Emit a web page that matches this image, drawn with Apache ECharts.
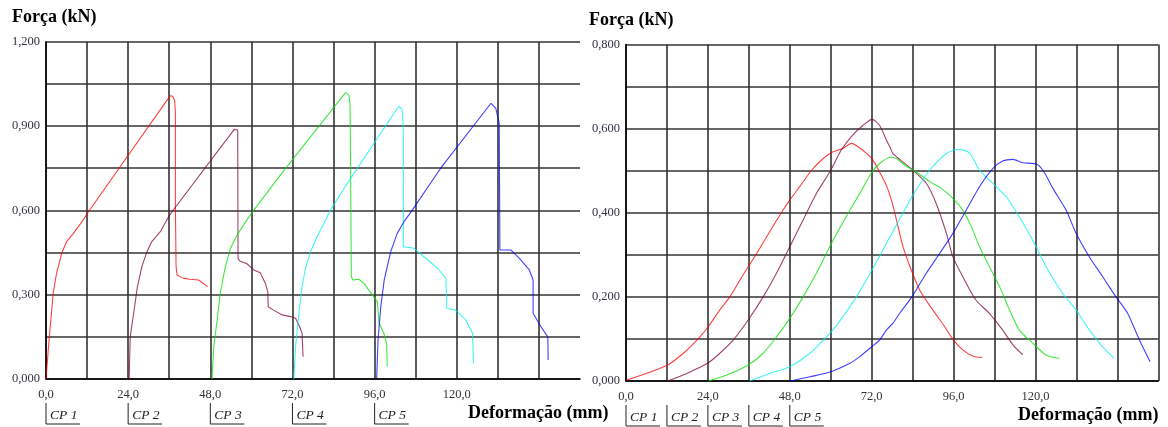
<!DOCTYPE html>
<html>
<head>
<meta charset="utf-8">
<script src="https://cdn.jsdelivr.net/npm/echarts@6/dist/echarts.min.js"></script>
<style>
html,body{margin:0;padding:0;background:#fff;}
#c{width:1168px;height:427px;}
</style>
</head>
<body>
<div id="c"></div>
<script>
// ---- Data ----
const cpNames = ['CP 1', 'CP 2', 'CP 3', 'CP 4', 'CP 5'];
const cpColors = ['#ff0000', '#800040', '#00e000', '#00f0f0', '#0000ff'];
const leftOffsets = [0, 24, 48, 72, 96];
const rightOffsets = [0, 12, 24, 36, 48];
const leftYMax = 1.2, leftYStep = 0.15;
const rightYMax = 0.8, rightYStep = 0.1;
const xMax = 156, xStep = 12;

const leftCP1 = [[0,0],[0.97,0.15],[2.1,0.305],[3.1,0.377],[4.6,0.448],[6.05,0.489],[8.0,0.518],[10.9,0.566],[12.4,0.595],[36.3,1.008],[37.0,1.006],[37.6,0.99],[37.8,0.95],[37.8,0.62],[38.0,0.40],[38.3,0.37],[40.2,0.358],[42.1,0.355],[44.6,0.352],[46.0,0.340],[47.2,0.328]];
const leftCP2 = [[24.3,0],[24.6,0.15],[25.6,0.234],[26.7,0.328],[28.0,0.40],[29.5,0.453],[30.9,0.489],[33.4,0.524],[35.3,0.566],[36.8,0.595],[55.0,0.888],[56.0,0.886],[56.1,0.429],[56.6,0.42],[58.7,0.41],[60.7,0.388],[62.6,0.378],[64.1,0.34],[64.8,0.31],[64.9,0.257],[66.5,0.245],[69.0,0.228],[71.4,0.222],[72.9,0.216],[74.1,0.186],[74.8,0.163],[75.1,0.079]];
const leftCP3 = [[48.5,0],[49.0,0.115],[50.0,0.21],[50.9,0.305],[52.4,0.40],[53.9,0.465],[55.8,0.512],[58.7,0.566],[60.7,0.601],[68.5,0.726],[87.5,1.019],[88.5,1.01],[88.8,0.981],[88.9,0.90],[89.2,0.364],[89.6,0.352],[91.4,0.355],[92.9,0.34],[95.3,0.299],[96.8,0.275],[97.3,0.198],[98.7,0.163],[99.5,0.127],[99.7,0.044]];
const leftCP4 = [[72.4,0],[72.9,0.115],[73.9,0.234],[74.8,0.328],[75.8,0.394],[77.3,0.453],[79.2,0.506],[81.7,0.566],[83.1,0.601],[88.5,0.705],[103.1,0.971],[104.1,0.957],[104.4,0.886],[104.4,0.471],[104.9,0.466],[107.5,0.465],[110.4,0.435],[114.4,0.394],[116.8,0.358],[117.1,0.252],[119.7,0.245],[122.6,0.21],[124.6,0.163],[124.9,0.056]];
const leftCP5 = [[96.6,0],[97.0,0.139],[97.8,0.257],[98.8,0.352],[100.7,0.453],[102.6,0.518],[104.6,0.56],[107.0,0.601],[115.3,0.75],[130.0,0.981],[131.4,0.963],[132.4,0.91],[132.6,0.459],[135.8,0.459],[138.3,0.429],[141.2,0.388],[142.3,0.352],[142.3,0.234],[144.6,0.186],[146.6,0.15],[146.7,0.068]];

const rightCP1 = [[0,0.002],[6.0,0.018],[12.2,0.038],[16.8,0.066],[21.2,0.101],[24.1,0.129],[27.5,0.169],[30.4,0.20],[34.3,0.252],[38.3,0.303],[42.1,0.355],[46.0,0.406],[48.0,0.43],[50.9,0.462],[54.4,0.501],[57.8,0.529],[60.7,0.545],[63.6,0.553],[66.1,0.565],[68.0,0.557],[70.5,0.541],[72.4,0.525],[74.3,0.497],[76.3,0.465],[77.8,0.43],[79.5,0.375],[81.2,0.319],[83.6,0.264],[86.1,0.216],[89.9,0.169],[93.4,0.129],[95.8,0.099],[98.7,0.074],[101.7,0.059],[104.4,0.056]];
const rightCP2 = [[12.2,0],[17.8,0.018],[23.9,0.042],[27.5,0.066],[31.4,0.097],[35.8,0.145],[40.2,0.20],[44.1,0.256],[48.0,0.319],[51.9,0.383],[55.8,0.446],[59.7,0.497],[63.1,0.549],[66.5,0.585],[69.5,0.608],[72.1,0.622],[74.3,0.608],[76.3,0.573],[77.3,0.557],[78.2,0.541],[80.2,0.527],[84.1,0.501],[88.0,0.47],[90.9,0.422],[93.9,0.351],[95.8,0.295],[98.7,0.248],[102.6,0.192],[106.5,0.161],[110.4,0.121],[113.4,0.086],[116.3,0.062]];
const rightCP3 = [[24.2,0],[29.5,0.014],[35.8,0.038],[40.2,0.066],[44.1,0.105],[48.0,0.149],[51.9,0.20],[55.8,0.256],[59.7,0.319],[62.6,0.363],[65.6,0.406],[68.5,0.446],[72.1,0.497],[74.6,0.519],[77.5,0.532],[79.2,0.529],[81.7,0.513],[85.1,0.497],[89.0,0.474],[92.4,0.458],[95.8,0.434],[98.7,0.406],[101.2,0.367],[103.6,0.319],[106.5,0.272],[109.5,0.224],[112.4,0.169],[115.3,0.121],[119.2,0.09],[123.1,0.062],[127.0,0.054]];
const rightCP4 = [[36.2,0],[42.1,0.018],[48.0,0.034],[53.9,0.066],[59.7,0.113],[63.6,0.153],[67.5,0.20],[72.1,0.264],[76.3,0.327],[78.2,0.355],[80.2,0.385],[83.8,0.438],[89.0,0.501],[93.9,0.541],[97.3,0.551],[100.7,0.542],[103.6,0.501],[107.5,0.47],[111.4,0.438],[115.3,0.39],[119.7,0.327],[123.1,0.272],[128.0,0.208],[131.9,0.169],[135.8,0.121],[139.7,0.081],[143.1,0.054]];
const rightCP5 = [[48.2,0],[53.9,0.010],[60.0,0.022],[65.6,0.042],[68.5,0.058],[72.1,0.082],[74.3,0.097],[76.3,0.121],[78.2,0.137],[80.2,0.161],[83.8,0.20],[88.0,0.256],[91.9,0.303],[95.8,0.351],[99.7,0.406],[103.6,0.462],[107.5,0.505],[110.4,0.523],[113.4,0.527],[116.3,0.519],[120.2,0.516],[122.2,0.501],[125.1,0.458],[129.0,0.406],[131.9,0.351],[135.8,0.295],[139.7,0.248],[143.6,0.20],[147.0,0.161],[150.5,0.097],[153.6,0.046]];

const leftSeriesData = [leftCP1, leftCP2, leftCP3, leftCP4, leftCP5];
const rightSeriesData = [rightCP1, rightCP2, rightCP3, rightCP4, rightCP5];

// ---- Styles ----
const SERIF = "'Liberation Serif', 'DejaVu Serif', serif";
const gridColor = '#333333';

function fmt(v, d) { return v.toFixed(d).replace('.', ','); }

function xAxisFor(gridIndex, showMax) {
  return {
    type: 'value', gridIndex: gridIndex, min: 0, max: xMax, interval: xStep,
    axisLine: { show: true, lineStyle: { color: '#000', width: 1.5 } },
    axisTick: { show: false },
    splitLine: { show: true, showMaxLine: showMax, lineStyle: { color: gridColor, width: 1.6 } },
    axisLabel: {
      fontFamily: SERIF, fontSize: 12.5, color: '#333', margin: 9,
      formatter: function (v) {
        const k = Math.round(v / xStep);
        if (k % 2 !== 0 || v > 130) return '';
        return fmt(v, 1);
      }
    }
  };
}
function yAxisFor(gridIndex, max, step) {
  return {
    type: 'value', gridIndex: gridIndex, min: 0, max: max, interval: step,
    axisLine: { show: true, lineStyle: { color: '#000', width: 1.5 } },
    axisTick: { show: false },
    splitLine: { show: true, lineStyle: { color: gridColor, width: 1.6 } },
    axisLabel: {
      fontFamily: SERIF, fontSize: 12.5, color: '#333344', margin: 6,
      formatter: function (v) {
        const k = Math.round(v / step);
        if (k % 2 !== 0) return '';
        return fmt(v, 3);
      }
    }
  };
}

const series = [];
leftSeriesData.forEach(function (d, i) {
  series.push({
    name: cpNames[i], type: 'line', xAxisIndex: 0, yAxisIndex: 0, data: d,
    showSymbol: false, symbol: 'none', z: 5,
    lineStyle: { color: cpColors[i], width: 1.1, opacity: 0.75 }
  });
});
rightSeriesData.forEach(function (d, i) {
  series.push({
    name: cpNames[i] + ' ', type: 'line', xAxisIndex: 1, yAxisIndex: 1, data: d,
    showSymbol: false, symbol: 'none', z: 5, smooth: 0.25,
    lineStyle: { color: cpColors[i], width: 1.1, opacity: 0.75 }
  });
});

const chart = echarts.init(document.getElementById('c'), null, { renderer: 'canvas' });
chart.setOption({
  animation: false,
  backgroundColor: '#fff',
  grid: [
    { left: 46, top: 41.7, width: 534, height: 337.3, containLabel: false },
    { left: 626, top: 44.5, width: 532.3, height: 336.5, containLabel: false }
  ],
  xAxis: [xAxisFor(0, false), xAxisFor(1, true)],
  yAxis: [yAxisFor(0, leftYMax, leftYStep), yAxisFor(1, rightYMax, rightYStep)],
  series: series
});

// ---- Text and legend labels ----
const g = [];
function titleText(x, y, txt) {
  g.push({ type: 'text', left: x, top: y, z: 10,
    style: { text: txt, fontFamily: SERIF, fontWeight: 'bold', fontSize: 18, fill: '#000' } });
}
titleText(12, 8, 'Força (kN)');
titleText(589, 11, 'Força (kN)');
titleText(468, 404, 'Deformação (mm)');
titleText(1018, 406, 'Deformação (mm)');

function legendRow(xAxisIndex, offsets, baseY) {
  offsets.forEach(function (off, i) {
    const px = chart.convertToPixel({ xAxisIndex: xAxisIndex }, off);
    g.push({ type: 'polyline', z: 10,
      shape: { points: [[px, baseY], [px, baseY + 21], [px + 34, baseY + 21]] },
      style: { stroke: '#222', lineWidth: 1, fill: null } });
    g.push({ type: 'text', z: 10, x: px + 4, y: baseY + 5,
      style: { text: cpNames[i], fontFamily: SERIF, fontStyle: 'italic', fontSize: 13.5, fill: '#222' } });
  });
}
legendRow(0, leftOffsets, 403);
legendRow(1, rightOffsets, 405);

chart.setOption({ graphic: g });
</script>
</body>
</html>
